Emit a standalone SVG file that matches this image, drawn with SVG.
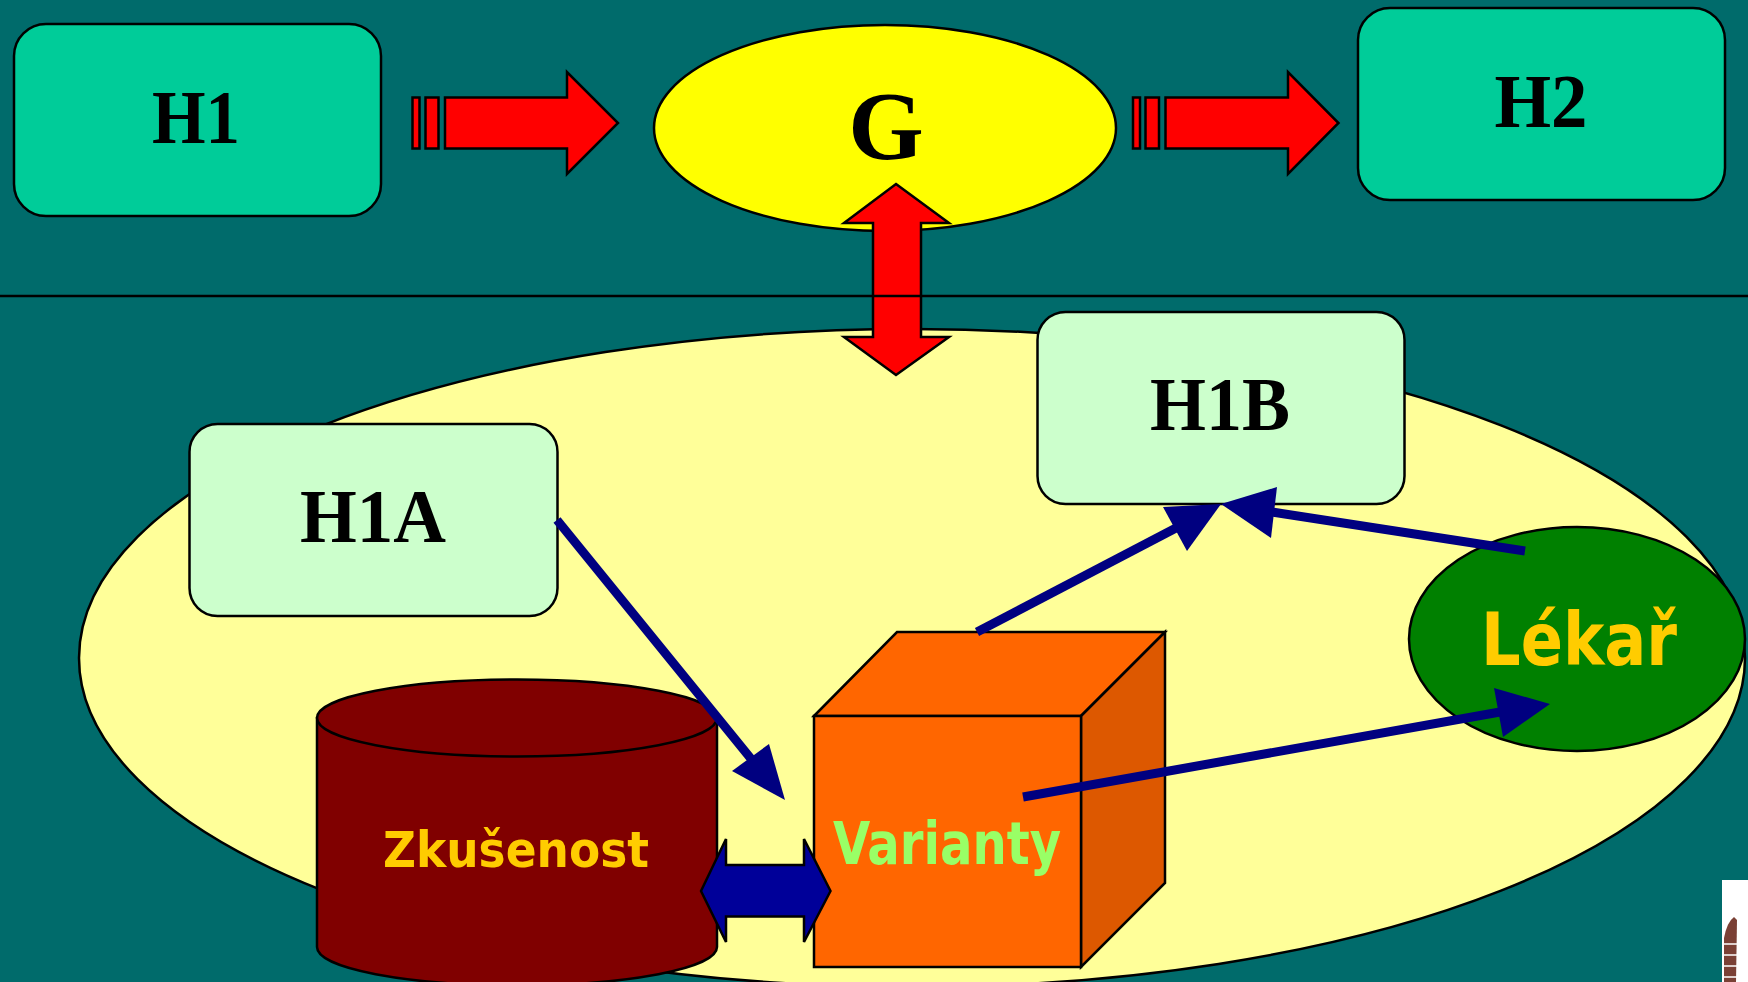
<svg xmlns="http://www.w3.org/2000/svg" width="1748" height="982" viewBox="0 0 1748 982">
<style>
.ln{stroke:#000;stroke-width:2.5}
.hbox{fill:#00CC99;stroke:#000;stroke-width:2.5}
.sbox{fill:#CCFFCC;stroke:#000;stroke-width:2.5}
.red{fill:#FF0000;stroke:#000;stroke-width:2.5;stroke-linejoin:miter}
.serif{font-family:"Liberation Serif","Times New Roman",serif;font-weight:bold;fill:#000;text-anchor:middle}
.sans{font-family:"DejaVu Sans Condensed","DejaVu Sans",sans-serif;font-weight:bold;font-stretch:condensed;text-anchor:middle}
.nav{stroke:#000080;stroke-width:9;fill:none}
.navh{fill:#000080}
</style>
<rect width="1748" height="982" fill="#006B6B"/>
<ellipse id="context" cx="912" cy="658" rx="833" ry="329" fill="#FFFF99" stroke="#000" stroke-width="2.5"/>
<g id="H1"><rect class="hbox" x="14" y="24" width="367" height="192" rx="32"/><text class="serif" x="196" y="143" font-size="77" textLength="88" lengthAdjust="spacingAndGlyphs">H1</text></g>
<g id="H2"><rect class="hbox" x="1358" y="8" width="367" height="192" rx="32"/><text class="serif" x="1541" y="127" font-size="77" textLength="93" lengthAdjust="spacingAndGlyphs">H2</text></g>
<g id="G"><ellipse cx="885" cy="128" rx="231" ry="103" fill="#FFFF00" stroke="#000" stroke-width="2.5"/><text class="serif" x="886" y="159" font-size="97">G</text></g>
<g id="connectors">
<g id="arrow-H1-G">
<rect class="red" x="412.5" y="97.5" width="7" height="51"/>
<rect class="red" x="425.5" y="97.5" width="13" height="51"/>
<polygon class="red" points="445,97.5 567,97.5 567,72 618,123 567,174 567,148.5 445,148.5"/>
</g>
<g id="arrow-G-H2">
<rect class="red" x="1133" y="97.5" width="7" height="51"/>
<rect class="red" x="1145.5" y="97.5" width="13.5" height="51"/>
<polygon class="red" points="1165.5,97.5 1288,97.5 1288,72 1338.5,123 1288,174 1288,148.5 1165.5,148.5"/>
</g>
<polygon id="arrow-G-context" class="red" points="896,184 949,223 921,223 921,337 949,337 896,375 844,337 873,337 873,223 844,223"/>
</g>
<line class="ln" x1="0" y1="296" x2="1748" y2="296"/>
<g id="H1A"><rect class="sbox" x="189.5" y="424" width="368" height="192" rx="28"/><text class="serif" x="373" y="542" font-size="77" textLength="146" lengthAdjust="spacingAndGlyphs">H1A</text></g>
<g id="H1B"><rect class="sbox" x="1037.5" y="312" width="367" height="192" rx="28"/><text class="serif" x="1220" y="430" font-size="77" textLength="140" lengthAdjust="spacingAndGlyphs">H1B</text></g>
<g id="Lekar"><ellipse cx="1577" cy="639" rx="168" ry="112" fill="#008000" stroke="#000" stroke-width="2.5"/><text class="sans" x="1579" y="665" font-size="73" fill="#FFCC00" textLength="196" lengthAdjust="spacingAndGlyphs">Lékař</text></g>
<g id="Zkusenost">
<path d="M317,718 L317,947 A200,38.5 0 0 0 717,947 L717,718 Z" fill="#800000" stroke="#000" stroke-width="2.5"/>
<ellipse cx="517" cy="718" rx="200" ry="38.5" fill="#800000" stroke="#000" stroke-width="2.5"/>
<text class="sans" x="516" y="867" font-size="49" fill="#FFCC00" textLength="266" lengthAdjust="spacingAndGlyphs">Zkušenost</text>
</g>
<g id="Varianty">
<polygon points="814,716 897,632 1165,632 1081,716" fill="#FF6600" stroke="#000" stroke-width="2.5"/>
<polygon points="1081,716 1165,632 1165,883 1081,967" fill="#DD5800" stroke="#000" stroke-width="2.5"/>
<rect x="814" y="716" width="267" height="251" fill="#FF6600" stroke="#000" stroke-width="2.5"/>
<text class="sans" x="947" y="864" font-size="58" fill="#99FF66" textLength="228" lengthAdjust="spacingAndGlyphs">Varianty</text>
</g>
<g id="connectors-blue">
<polygon points="701,891 726,839 726,865 804,865 804,839 830.5,891 804,942 804,916.5 726,916.5 726,942" fill="#000099" stroke="#000" stroke-width="2.5"/>
<line class="nav" x1="557" y1="520" x2="752" y2="760"/>
<polygon class="navh" points="769,744 785,800 732,771"/>
<line class="nav" x1="977" y1="632" x2="1176" y2="528"/>
<polygon class="navh" points="1163,507 1221,504 1187,551"/>
<line class="nav" x1="1525" y1="551" x2="1272" y2="512"/>
<polygon class="navh" points="1277,487 1221,504 1271,538"/>
<line class="nav" x1="1023" y1="797" x2="1500" y2="712"/>
<polygon class="navh" points="1494,688 1550,704 1503,737"/>
</g>
<g id="corner">
<rect x="1722" y="880" width="26" height="102" fill="#FFFFFF"/>
<path d="M1724,982 L1724,938 Q1727,922 1734,917 L1737,920 L1736,982 Z" fill="#7A4035"/>
<g stroke="#FFFFFF" stroke-width="1.5"><line x1="1722" y1="944" x2="1740" y2="944"/><line x1="1722" y1="955" x2="1740" y2="955"/><line x1="1722" y1="966" x2="1740" y2="966"/><line x1="1722" y1="977" x2="1740" y2="977"/></g>
</g>
</svg>
